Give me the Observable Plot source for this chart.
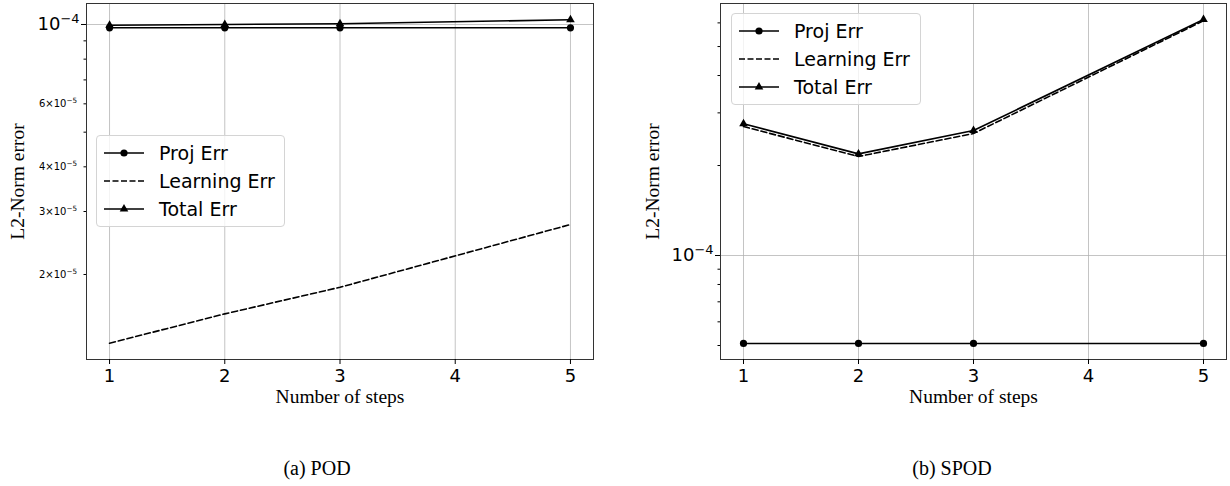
<!DOCTYPE html>
<html>
<head>
<meta charset="utf-8">
<script src="https://cdn.jsdelivr.net/npm/d3@7"></script>
<script src="https://cdn.jsdelivr.net/npm/@observablehq/plot@0.6"></script>
<style>
  html, body { margin: 0; padding: 0; background: #fff; }
  #wrap { position: relative; width: 1230px; height: 486px; overflow: hidden; }
  .panel { position: absolute; top: 0; }
  .legend { position: absolute; box-sizing: border-box; border: 1px solid #d4d4d4; border-radius: 4px;
            background: rgba(255,255,255,0.8); font-family: "DejaVu Sans", sans-serif; font-size: 19px; color: #000; }
  .legend .row { position: absolute; left: 0; height: 20px; display: flex; align-items: center; }
  .legend .row svg { position: absolute; left: 6px; top: 0; }
  .legend .row span { position: absolute; left: 62px; top: -2px; white-space: nowrap; line-height: 24px; }
  .caption { position: absolute; font-family: "Liberation Serif", serif; font-size: 20px; color: #000;
             transform: translate(-50%, -50%); white-space: nowrap; }
</style>
</head>
<body>
<div id="wrap"></div>
<script>
// ---------------- data ----------------
const steps = [1, 2, 3, 5];
const seriesNames = ["Proj Err", "Learning Err", "Total Err"];

const podProj  = [9.79e-5, 9.79e-5, 9.79e-5, 9.79e-5];
const podLearn = [1.285e-5, 1.552e-5, 1.842e-5, 2.759e-5];
const podTotal = [9.955e-5, 1.0e-4, 1.0045e-4, 1.031e-4];

const spodProj  = [5.08e-5, 5.08e-5, 5.08e-5, 5.08e-5];
const spodLearn = [2.70e-4, 2.144e-4, 2.559e-4, 6.10e-4];
const spodTotal = [2.757e-4, 2.188e-4, 2.619e-4, 6.157e-4];

const xTicks = [1, 2, 3, 4, 5];
const podMajorY = [1e-4];
const podMinorLabeled = [2e-5, 3e-5, 4e-5, 6e-5];
const podMinorUnlabeled = [5e-5, 7e-5, 8e-5, 9e-5];
const spodMajorY = [1e-4];
const spodMinorUnlabeled = [5e-5, 6e-5, 7e-5, 8e-5, 9e-5, 2e-4, 3e-4, 4e-4, 5e-4, 6e-4];

const xLabel = "Number of steps";
const yLabel = "L2-Norm error";
const captions = ["(a) POD", "(b) SPOD"];

// ---------------- helpers ----------------
function rows(vals) { return steps.map((s, i) => ({step: s, value: vals[i]})); }

function fmtMajor(v) { const e = Math.round(Math.log10(v)); return "10^\u2212" + Math.abs(e); }
function fmtMinor(v) {
  const e = Math.floor(Math.log10(v) + 1e-9);
  const m = Math.round(v / Math.pow(10, e));
  return m + "\u00d710^\u2212" + Math.abs(e);
}

function supify(svg) {
  d3.select(svg).selectAll("text").each(function() {
    const t = this.textContent;
    if (!t.includes("^")) return;
    const [base, exp] = t.split("^");
    const sel = d3.select(this);
    sel.text(null);
    sel.append("tspan").text(base);
    sel.append("tspan").attr("dy", "-0.55em").attr("font-size", "0.72em").text(exp);
  });
}

function makeChart(cfg) {
  const gridStyle = {stroke: "#b0b0b0", strokeOpacity: 0.75, strokeWidth: 1};
  const marks = [
    Plot.gridX(xTicks, gridStyle),
    Plot.gridY(cfg.majorY, gridStyle),
    Plot.line(rows(cfg.learn), {x: "step", y: "value", stroke: "#000", strokeWidth: 1.6, strokeDasharray: "6,3"}),
    Plot.line(rows(cfg.proj), {x: "step", y: "value", stroke: "#000", strokeWidth: 1.6}),
    Plot.line(rows(cfg.total), {x: "step", y: "value", stroke: "#000", strokeWidth: 1.6}),
    Plot.dot(rows(cfg.proj), {x: "step", y: "value", fill: "#000", r: 3.6}),
    Plot.dot(rows(cfg.total), {x: "step", y: "value", fill: "#000", symbol: "triangle", r: 3.2}),
    Plot.frame({stroke: "#333", strokeWidth: 1}),
    Plot.axisX(xTicks, {tickSize: 5, tickPadding: 5, fontSize: 18, label: null, tickFormat: d => String(d)}),
    Plot.axisY(cfg.majorY, {tickSize: 5, tickPadding: 2, fontSize: 18, label: null, tickFormat: fmtMajor}),
    Plot.axisY(cfg.minorUnlabeled, {tickSize: 2.5, label: null, tickFormat: () => ""}),
    Plot.text([xLabel], {frameAnchor: "bottom", dy: 37, lineAnchor: "middle", textAnchor: "middle",
      fontFamily: "Liberation Serif", fontSize: 19.5, fill: "#000"}),
    Plot.text([yLabel], {frameAnchor: "left", dx: cfg.yLabelDx, rotate: -90, textAnchor: "middle", lineAnchor: "middle",
      fontFamily: "Liberation Serif", fontSize: 19.5, fill: "#000"})
  ];
  if (cfg.minorLabeled) {
    marks.push(Plot.axisY(cfg.minorLabeled, {tickSize: 2.5, tickPadding: 7, fontSize: 10, label: null, tickFormat: fmtMinor}));
  }
  const svg = Plot.plot({
    width: 615,
    height: 410,
    marginLeft: cfg.marginLeft,
    marginRight: cfg.marginRight,
    marginTop: 3,
    marginBottom: 51,
    style: {fontFamily: "DejaVu Sans", color: "#000", background: "transparent", overflow: "visible"},
    x: {domain: [0.8, 5.2]},
    y: {type: "log", domain: cfg.yDomain},
    marks
  });
  supify(svg);
  return svg;
}

function makeLegend(pos) {
  const div = document.createElement("div");
  div.className = "legend";
  Object.assign(div.style, {left: pos.left + "px", top: pos.top + "px", width: pos.width + "px", height: pos.height + "px"});
  const rowY = [6.5, 34.5, 63];
  seriesNames.forEach((name, i) => {
    const row = document.createElement("div");
    row.className = "row";
    row.style.top = rowY[i] + "px";
    const s = d3.create("svg").attr("width", 42).attr("height", 20);
    s.append("line").attr("x1", 1).attr("x2", 41).attr("y1", 10).attr("y2", 10)
      .attr("stroke", "#000").attr("stroke-width", 1.6)
      .attr("stroke-dasharray", i === 1 ? "6,2.5" : null);
    if (i === 0) s.append("circle").attr("cx", 21).attr("cy", 10).attr("r", 3.6).attr("fill", "#000");
    if (i === 2) s.append("path").attr("d", d3.symbol(d3.symbolTriangle, 3.2 * 3.2 * Math.PI)()).attr("transform", "translate(21,10)").attr("fill", "#000");
    row.appendChild(s.node());
    const sp = document.createElement("span");
    sp.textContent = name;
    row.appendChild(sp);
    div.appendChild(row);
  });
  return div;
}

const wrap = document.getElementById("wrap");

const left = makeChart({proj: podProj, learn: podLearn, total: podTotal, yDomain: [1.157e-5, 1.1447e-4],
  majorY: podMajorY, minorLabeled: podMinorLabeled, minorUnlabeled: podMinorUnlabeled,
  marginLeft: 86, marginRight: 22, yLabelDx: -69});
const right = makeChart({proj: spodProj, learn: spodLearn, total: spodTotal, yDomain: [4.489e-5, 6.966e-4],
  majorY: spodMajorY, minorLabeled: null, minorUnlabeled: spodMinorUnlabeled,
  marginLeft: 105, marginRight: 4, yLabelDx: -68});

const lp = document.createElement("div"); lp.className = "panel"; lp.style.left = "0px"; lp.appendChild(left); wrap.appendChild(lp);
const rp = document.createElement("div"); rp.className = "panel"; rp.style.left = "615px"; rp.appendChild(right); wrap.appendChild(rp);

wrap.appendChild(makeLegend({left: 96, top: 135, width: 189, height: 92}));
wrap.appendChild(makeLegend({left: 731, top: 13, width: 190, height: 92}));

[[captions[0], 317], [captions[1], 952]].forEach(([t, x]) => {
  const c = document.createElement("div");
  c.className = "caption";
  c.textContent = t;
  c.style.left = x + "px";
  c.style.top = "468px";
  wrap.appendChild(c);
});
</script>
</body>
</html>
